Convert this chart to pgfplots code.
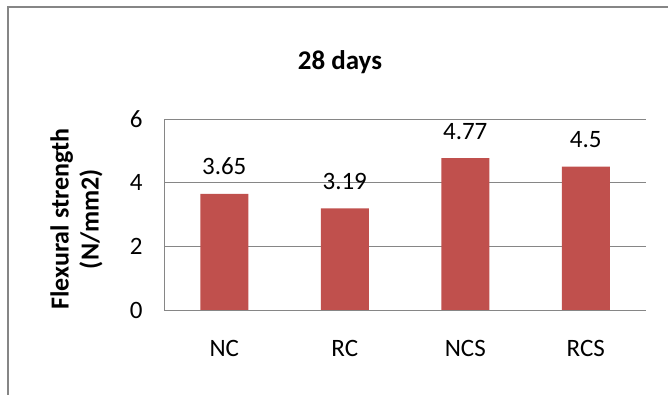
\documentclass[border=0pt]{standalone}
\usepackage{pgfplots}
\pgfplotsset{compat=1.18}
\usepackage{fontspec}
\setmainfont{Carlito}
\definecolor{barred}{HTML}{C0504D}
\definecolor{gridgray}{HTML}{868686}

\begin{document}
\begin{tikzpicture}[x=1pt,y=1pt]
\path[use as bounding box] (0,0) rectangle (668,395);
% chart area frame
\draw[gridgray, line width=2pt] (7.5,0) -- (7.5,388) -- (668,388);
\begin{axis}[
  at={(164pt,85pt)}, anchor=south west,
  scale only axis, width=482pt, height=191pt,
  xmin=-0.5, xmax=3.5, ymin=0, ymax=6,
  ytick={0,2,4,6},
  xtick={0,1,2,3}, xticklabels={NC,RC,NCS,RCS},
  ymajorgrids, grid style={gridgray, line width=0.8pt},
  axis x line*=bottom, axis y line*=left,
  axis line style={gridgray, line width=0.8pt},
  major tick length=0pt,
  /pgf/number format/assume math mode=true,
  tick label style={font=\fontsize{25}{25}\selectfont, text=black},
  yticklabel style={xshift=-18pt},
  xticklabel style={yshift=-27pt},
  ybar, bar width=48pt,
  nodes near coords,
  nodes near coords style={font=\fontsize{25}{25}\selectfont, anchor=base, yshift=19pt, text=black},
  title={28 days},
  title style={font=\bfseries\fontsize{27}{27}\selectfont, at={(axis description cs:0.365,1.23)}, anchor=base},
  ylabel={Flexural strength\\(N/mm2)},
  ylabel style={font=\bfseries\fontsize{26}{30}\selectfont, align=center, at={(axis description cs:-0.1815,0.476)}, anchor=center, rotate=0},
]
\addplot[fill=barred, draw=none] coordinates {(0,3.65) (1,3.19) (2,4.77) (3,4.5)};
\end{axis}
\end{tikzpicture}
\end{document}
